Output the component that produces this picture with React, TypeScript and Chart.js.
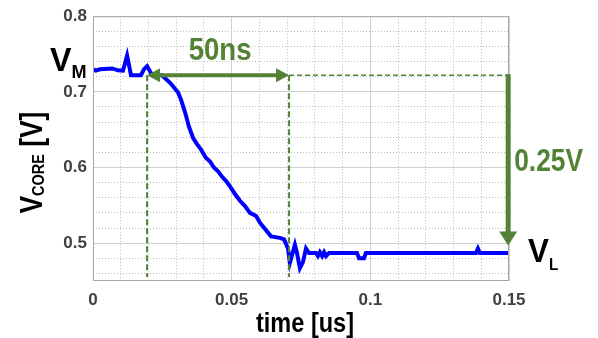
import React, { useEffect, useRef } from "react";
import { Chart, registerables } from "chart.js";

Chart.register(...registerables);

// ---- data (time in us, core voltage in V) ----
const timeUs = [
  0, 0.001, 0.0025, 0.0069, 0.009, 0.0108, 0.0115, 0.0123, 0.013, 0.0137,
  0.0173, 0.0184, 0.0195, 0.0206, 0.0213, 0.0249, 0.0263, 0.0278, 0.0296,
  0.0307, 0.0317, 0.0332, 0.0346, 0.0361, 0.0375, 0.0389, 0.0407, 0.0422,
  0.0436, 0.0451, 0.0465, 0.048, 0.0494, 0.0512, 0.053, 0.0548, 0.0566,
  0.0588, 0.0602, 0.0624, 0.0642, 0.0674, 0.0689, 0.0703, 0.071, 0.0728,
  0.0735, 0.0746, 0.0757, 0.0768, 0.0779, 0.0804, 0.0811, 0.0818, 0.0826,
  0.0833, 0.084, 0.0851, 0.0952, 0.0959, 0.0977, 0.0984, 0.1381, 0.1388,
  0.1395, 0.15,
];
const vCore = [
  0.73, 0.728, 0.7298, 0.731, 0.7285, 0.728, 0.737, 0.748, 0.735, 0.722,
  0.722, 0.73, 0.734, 0.727, 0.722, 0.722, 0.717, 0.712, 0.704,
  0.699, 0.69, 0.673, 0.654, 0.639, 0.631, 0.624, 0.613, 0.608,
  0.6, 0.595, 0.588, 0.582, 0.575, 0.565, 0.556, 0.549, 0.54,
  0.536, 0.527, 0.517, 0.509, 0.507, 0.505, 0.493, 0.474, 0.498,
  0.488, 0.467, 0.475, 0.493, 0.487, 0.487, 0.483, 0.488, 0.483,
  0.488, 0.483, 0.487, 0.487, 0.48, 0.48, 0.487, 0.487, 0.493,
  0.487, 0.487,
];

// ---- axes ----
const xMin = 0;
const xMax = 0.15;
const yMin = 0.45;
const yMax = 0.8;
const xMajorTicks = [0, 0.05, 0.1, 0.15];
const xTickLabels = ["0", "0.05", "0.1", "0.15"];
const xMinorTicks = [0.01, 0.02, 0.03, 0.04, 0.06, 0.07, 0.08, 0.09, 0.11, 0.12, 0.13, 0.14];
const yMajorTicks = [0.5, 0.6, 0.7, 0.8];
const yTickLabels = ["0.5", "0.6", "0.7", "0.8"];
const yMinorTicks = [0.46, 0.48, 0.52, 0.54, 0.56, 0.58, 0.62, 0.64, 0.66, 0.68, 0.72, 0.74, 0.76, 0.78];

// ---- annotation values ----
const tStart = 0.0195;
const tEnd = 0.0707;
const tDrop = 0.1497;
const vM = 0.722;
const vL = 0.497;
const vMLabelLevel = 0.73;
const vLLabelLevel = 0.487;
const deltaLabel = "0.25V";
const timeLabel = "50ns";

const FONT = "'Liberation Sans', Arial, Helvetica, sans-serif";
const GREEN = "#548235";

type Part = { text: string; size: number; dy?: number };

function drawParts(
  ctx: CanvasRenderingContext2D,
  parts: Part[],
  x: number,
  y: number,
  color: string,
  scaleX: number
) {
  ctx.save();
  ctx.translate(x, y);
  ctx.scale(scaleX, 1);
  ctx.fillStyle = color;
  ctx.textAlign = "left";
  ctx.textBaseline = "alphabetic";
  let cx = 0;
  for (const p of parts) {
    ctx.font = `bold ${p.size}px ${FONT}`;
    ctx.fillText(p.text, cx, p.dy || 0);
    cx += ctx.measureText(p.text).width;
  }
  ctx.restore();
}

function partsWidth(ctx: CanvasRenderingContext2D, parts: Part[]) {
  let w = 0;
  for (const p of parts) {
    ctx.font = `bold ${p.size}px ${FONT}`;
    w += ctx.measureText(p.text).width;
  }
  return w;
}

const annotationPlugin = {
  id: "annotations",
  afterDatasetsDraw(chart: any) {
    const ctx: CanvasRenderingContext2D = chart.ctx;
    const xs = chart.scales.x;
    const ys = chart.scales.y;
    const area = chart.chartArea;
    const x1 = xs.getPixelForValue(tStart);
    const x2 = xs.getPixelForValue(tEnd);
    const xR = xs.getPixelForValue(tDrop);
    const yM = ys.getPixelForValue(vM);
    const yL = ys.getPixelForValue(vL);

    ctx.save();
    // frame
    ctx.strokeStyle = "#a6a6a6";
    ctx.lineWidth = 1;
    ctx.setLineDash([]);
    ctx.strokeRect(area.left + 0.5, area.top + 0.5, area.right - area.left - 1, area.bottom - area.top - 1);

    // dashed verticals
    ctx.strokeStyle = GREEN;
    ctx.lineWidth = 2;
    ctx.setLineDash([6, 3]);
    for (const xp of [x1, x2]) {
      ctx.beginPath();
      ctx.moveTo(xp, yM);
      ctx.lineTo(xp, area.bottom - 4);
      ctx.stroke();
    }
    // dashed horizontal
    ctx.lineWidth = 1.5;
    ctx.setLineDash([5, 3]);
    ctx.beginPath();
    ctx.moveTo(x2, yM);
    ctx.lineTo(xR, yM);
    ctx.stroke();
    ctx.setLineDash([]);

    // double arrow
    ctx.fillStyle = GREEN;
    ctx.lineWidth = 4;
    ctx.beginPath();
    ctx.moveTo(x1 + 10, yM);
    ctx.lineTo(x2 - 10, yM);
    ctx.stroke();
    ctx.beginPath();
    ctx.moveTo(x1, yM);
    ctx.lineTo(x1 + 13, yM - 7);
    ctx.lineTo(x1 + 13, yM + 7);
    ctx.closePath();
    ctx.fill();
    ctx.beginPath();
    ctx.moveTo(x2, yM);
    ctx.lineTo(x2 - 13, yM - 7);
    ctx.lineTo(x2 - 13, yM + 7);
    ctx.closePath();
    ctx.fill();

    // vertical drop arrow
    ctx.lineWidth = 5;
    ctx.beginPath();
    ctx.moveTo(xR, yM - 1);
    ctx.lineTo(xR, yL - 10);
    ctx.stroke();
    ctx.beginPath();
    ctx.moveTo(xR, yL);
    ctx.lineTo(xR - 9, yL - 14);
    ctx.lineTo(xR + 9, yL - 14);
    ctx.closePath();
    ctx.fill();

    // labels
    const tParts = [{ text: timeLabel, size: 31 }];
    const tw = partsWidth(ctx, tParts) * 0.89;
    drawParts(ctx, tParts, (x1 + x2) / 2 - tw / 2 + 2, yM - 15, GREEN, 0.89);

    const dParts = [{ text: deltaLabel, size: 31 }];
    drawParts(ctx, dParts, xR + 6, (yM + yL) / 2 + 11, GREEN, 0.85);

    const yVM = ys.getPixelForValue(vMLabelLevel);
    drawParts(
      ctx,
      [
        { text: "V", size: 34 },
        { text: "M", size: 19, dy: 7 },
      ],
      area.left - 43,
      yVM + 2,
      "#000",
      0.95
    );
    const yVL = ys.getPixelForValue(vLLabelLevel);
    drawParts(
      ctx,
      [
        { text: "V", size: 33 },
        { text: "L", size: 16, dy: 8 },
      ],
      area.right + 19,
      yVL + 9,
      "#000",
      0.95
    );

    // axis titles
    const xt = [{ text: "time [us]", size: 28 }];
    const xtw = partsWidth(ctx, xt);
    const xScale = 98 / xtw;
    drawParts(ctx, xt, (area.left + area.right) / 2 + 4 - 49, area.bottom + 51, "#000", xScale);

    const yt: Part[] = [
      { text: "V", size: 31 },
      { text: "CORE", size: 17, dy: 2 },
      { text: " [V]", size: 31 },
    ];
    const ytw = partsWidth(ctx, yt);
    ctx.save();
    ctx.translate(area.left - 51, (area.top + area.bottom) / 2 + 65);
    ctx.rotate(-Math.PI / 2);
    drawParts(ctx, yt, 0, 0, "#000", 102 / ytw);
    ctx.restore();

    ctx.restore();
  },
};

export default function App() {
  const ref = useRef<HTMLCanvasElement>(null);
  useEffect(() => {
    const canvas = ref.current;
    if (!canvas) return;
    const tickFont = { family: FONT, size: 17, weight: "bold" as const };
    const chart = new Chart(canvas, {
      type: "line",
      data: {
        datasets: [
          {
            data: timeUs.map((t, i) => ({ x: t, y: vCore[i] })),
            borderColor: "#0000ff",
            borderWidth: 4,
            pointRadius: 0,
            tension: 0,
            fill: false,
          },
        ],
      },
      options: {
        animation: false,
        responsive: false,
        maintainAspectRatio: false,
        layout: { padding: { left: 0, top: 12, right: 89, bottom: 0 } },
        plugins: {
          legend: { display: false },
          tooltip: { enabled: false },
        },
        scales: {
          xMinor: {
            type: "linear",
            position: "bottom",
            min: xMin,
            max: xMax,
            afterBuildTicks: (s: any) => {
              s.ticks = xMinorTicks.map((v) => ({ value: v }));
            },
            afterFit: (s: any) => {
              s.height = 0;
            },
            ticks: { display: false },
            grid: { color: "#bdbdbd", lineWidth: 1, drawTicks: false },
            border: { display: false, dash: [1, 2] },
          },
          yMinor: {
            type: "linear",
            position: "left",
            min: yMin,
            max: yMax,
            afterBuildTicks: (s: any) => {
              s.ticks = yMinorTicks.map((v) => ({ value: v }));
            },
            afterFit: (s: any) => {
              s.width = 0;
            },
            ticks: { display: false },
            grid: { color: "#bdbdbd", lineWidth: 1, drawTicks: false },
            border: { display: false, dash: [1, 2] },
          },
          x: {
            type: "linear",
            position: "bottom",
            min: xMin,
            max: xMax,
            afterBuildTicks: (s: any) => {
              s.ticks = xMajorTicks.map((v) => ({ value: v }));
            },
            afterFit: (s: any) => {
              s.height = 57;
            },
            ticks: {
              callback: (_v: any, i: number) => xTickLabels[i],
              font: tickFont,
              color: "#404040",
              padding: 9,
              maxRotation: 0,
              autoSkip: false,
            },
            grid: { color: "#d0d0d0", lineWidth: 1, drawTicks: false },
            border: { display: false },
          },
          y: {
            type: "linear",
            position: "left",
            min: yMin,
            max: yMax,
            afterBuildTicks: (s: any) => {
              s.ticks = yMajorTicks.map((v) => ({ value: v }));
            },
            afterFit: (s: any) => {
              s.width = 93;
            },
            ticks: {
              callback: (_v: any, i: number) => yTickLabels[i],
              font: tickFont,
              color: "#404040",
              padding: 6,
              autoSkip: false,
            },
            grid: { color: "#d0d0d0", lineWidth: 1, drawTicks: false },
            border: { display: false },
          },
        },
      },
      plugins: [annotationPlugin],
    });
    return () => chart.destroy();
  }, []);
  return (
    <div
      style={{
        position: "fixed",
        left: 0,
        top: 0,
        width: 598,
        height: 338,
        background: "#fff",
      }}
    >
      <canvas ref={ref} width={598} height={338} style={{ width: 598, height: 338 }} />
    </div>
  );
}
